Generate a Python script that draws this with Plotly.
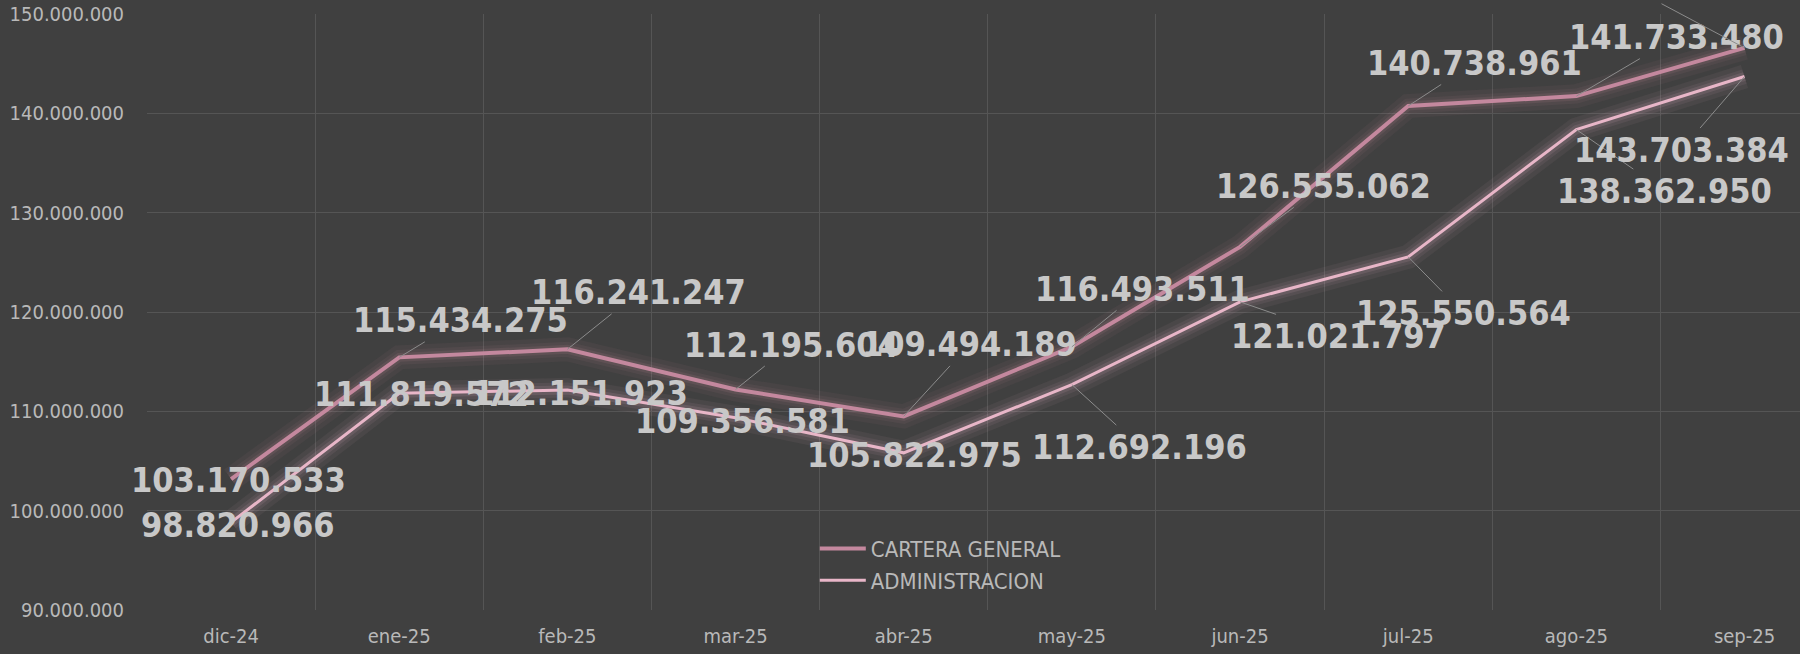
import plotly.graph_objects as go

meses = ["dic-24", "ene-25", "feb-25", "mar-25", "abr-25", "may-25",
         "jun-25", "jul-25", "ago-25", "sep-25"]
cartera_general = [103170533, 115434275, 116241247, 112195604, 109494189,
                   116493511, 126555062, 140738961, 141733480, 146590000]
administracion = [98820966, 111819572, 112151923, 109356581, 105822975,
                  112692196, 121021797, 125550564, 138362950, 143703384]

# label offsets (pixels) for data labels
off_cartera = [(7, 1), (61, -37), (71, -57), (56, -45), (66, -72), (71, -58),
               (83, -61), (66, -43), (100, -59), (-90, -58)]
off_admin = [(7, 3), (22, 1), (13, 3), (7, 3), (11, 2), (68, 62),
             (98, 34), (55, 56), (88, 61), (-63, 73)]
# the last CARTERA GENERAL label lies above the top edge in the reference (not visible)
hidden_label = {("cartera", 9)}

BG = "#404040"
C_CART = "#c4889e"
C_ADM = "#e8b6c8"
LBL = "#c8c8c8"
TICK = "#b9b9b9"
FONT = "DejaVu Sans Condensed, DejaVu Sans, sans-serif"

fig = go.Figure()

# glow underlays
for ys, rgb in ((cartera_general, "196,136,158"), (administracion, "232,182,200")):
    for w, a in ((24, 0.06), (15, 0.08), (9, 0.12)):
        fig.add_trace(go.Scatter(x=meses, y=ys, mode="lines",
                                 line=dict(color=f"rgba({rgb},{a})", width=w),
                                 showlegend=False, hoverinfo="skip"))

fig.add_trace(go.Scatter(x=meses, y=cartera_general, mode="lines", name="CARTERA GENERAL",
                         line=dict(color=C_CART, width=4)))
fig.add_trace(go.Scatter(x=meses, y=administracion, mode="lines", name="ADMINISTRACION",
                         line=dict(color=C_ADM, width=3)))


def fmt(v):
    return f"{v:,}".replace(",", ".")


annotations = []
for key, ys, offs in (("cartera", cartera_general, off_cartera),
                      ("admin", administracion, off_admin)):
    for i, (m, v, (ax, ay)) in enumerate(zip(meses, ys, offs)):
        txt = " " if (key, i) in hidden_label else fmt(v)
        annotations.append(dict(
            x=m, y=v, xref="x", yref="y", text=txt,
            showarrow=True, arrowhead=0, arrowwidth=1, arrowcolor="#8c8c8c",
            ax=ax, ay=ay, standoff=0,
            font=dict(family=FONT, size=34, color=LBL, weight="bold"),
        ))

fig.update_layout(
    width=1800, height=654,
    margin=dict(l=147, r=0, t=14, b=44),
    paper_bgcolor=BG, plot_bgcolor=BG,
    separators=",.",
    annotations=annotations,
    showlegend=True,
    legend=dict(x=0.404, y=0.138, xanchor="left", yanchor="top",
                bgcolor="rgba(0,0,0,0)", borderwidth=0,
                font=dict(family=FONT, size=22, color=TICK),
                tracegroupgap=0, itemwidth=46),
    xaxis=dict(type="category", range=[-0.5, 9.33], tickson="boundaries",
               showgrid=True, gridcolor="#555555", gridwidth=1,
               showline=False, zeroline=False, ticks="",
               ticklabelstandoff=12,
               tickfont=dict(family=FONT, size=20, color=TICK)),
    yaxis=dict(range=[90000000, 150000000], dtick=10000000, tickformat=",d",
               showgrid=True, gridcolor="#555555", gridwidth=1,
               showline=False, zeroline=False, ticks="",
               ticklabelstandoff=22,
               tickfont=dict(family=FONT, size=20, color=TICK)),
)

fig.write_html("out.html", config={"displayModeBar": False},
               post_script="document.body.style.margin='0';document.body.style.padding='0';"
                           "document.body.style.background='#404040';")
